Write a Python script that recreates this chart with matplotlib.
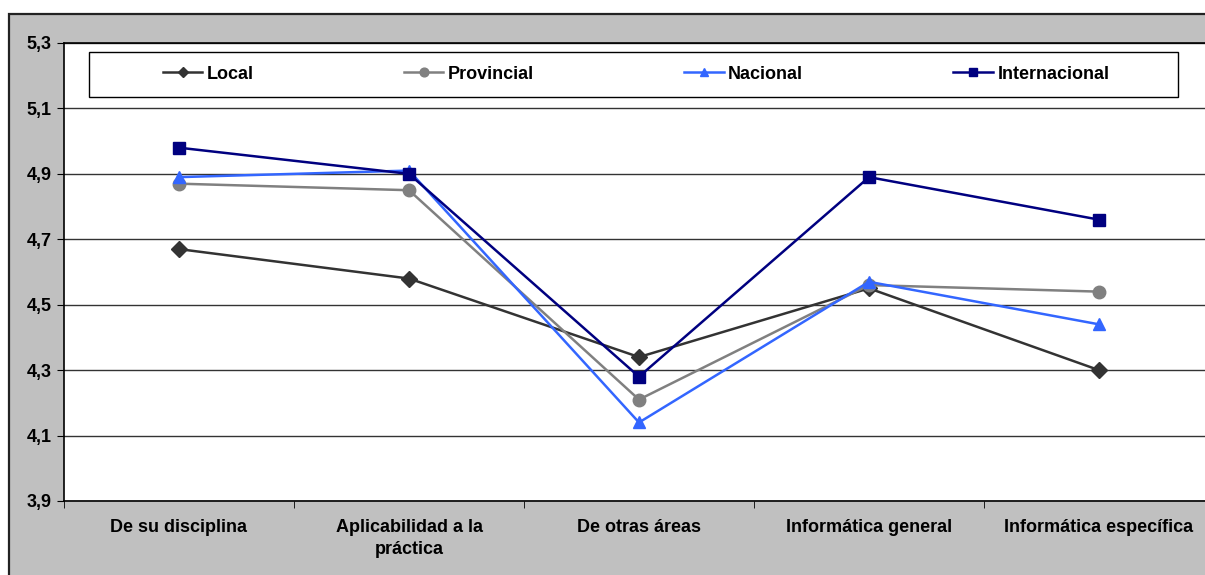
import numpy as np
import matplotlib.pyplot as plt
from matplotlib.patches import Rectangle
from matplotlib.lines import Line2D
from matplotlib.ticker import FixedLocator, FuncFormatter

categories = ['De su disciplina', 'Aplicabilidad a la\npráctica', 'De otras áreas',
              'Informática general', 'Informática específica']
local = [4.67, 4.58, 4.34, 4.55, 4.30]
provincial = [4.87, 4.85, 4.21, 4.56, 4.54]
nacional = [4.89, 4.91, 4.14, 4.57, 4.44]
internacional = [4.98, 4.90, 4.28, 4.89, 4.76]
y_ticks = [3.9, 4.1, 4.3, 4.5, 4.7, 4.9, 5.1, 5.3]


def main():
    plt.rcParams['font.family'] = ['Liberation Sans', 'DejaVu Sans']
    fig = plt.figure(figsize=(12.05, 5.75), dpi=100, facecolor='white')

    # fondo gris del área del gráfico
    bg = Rectangle((9 / 1205, -0.1), 1.2, 1 - 14 / 575 + 0.1,
                   transform=fig.transFigure, facecolor='#C0C0C0',
                   edgecolor='#222222', linewidth=1.6, zorder=-10)
    fig.add_artist(bg)

    ax = fig.add_axes([64 / 1205, 1 - 501 / 575, 1150 / 1205, (501 - 43) / 575])
    ax.set_zorder(1)
    ax.set_facecolor('white')
    x = np.arange(len(categories))

    series = [
        ('Local', local, '#333333', 'D', 8),
        ('Provincial', provincial, '#808080', 'o', 9),
        ('Nacional', nacional, '#3366FF', '^', 8),
        ('Internacional', internacional, '#000080', 's', 9),
    ]
    handles = []
    for name, vals, color, marker, ms in series:
        ax.plot(x, vals, color=color, marker=marker, markersize=ms,
                linewidth=1.8, markeredgecolor=color, label=name, zorder=3)
        # marcadores más pequeños en la leyenda
        handles.append(Line2D([], [], color=color, marker=marker, markersize=ms * 0.7,
                              linewidth=1.8, markeredgecolor=color, label=name))

    ax.set_xlim(-0.5, len(categories) - 0.5)
    ax.set_ylim(3.9, 5.3)
    ax.yaxis.set_major_locator(FixedLocator(y_ticks))
    ax.yaxis.set_major_formatter(FuncFormatter(lambda v, p: f'{v:.1f}'.replace('.', ',')))
    ax.set_xticks(x)
    ax.set_xticklabels(categories, fontsize=13, fontweight='bold', linespacing=1.35)
    ax.set_xticks(np.arange(-0.5, len(categories), 1.0), minor=True)
    ax.tick_params(axis='x', which='major', length=0, pad=13)
    ax.tick_params(axis='x', which='minor', length=5, direction='out', color='black')
    ax.tick_params(axis='y', length=5, direction='out', labelsize=13, pad=4)
    for lab in ax.get_yticklabels():
        lab.set_fontweight('bold')

    ax.grid(axis='y', color='#333333', linewidth=1, zorder=1)
    for s in ax.spines.values():
        s.set_color('black')
        s.set_linewidth(1.2)

    # recuadro de la leyenda
    box = Rectangle((89 / 1205, 1 - 97 / 575), (1178 - 89) / 1205, 45 / 575,
                    transform=fig.transFigure, facecolor='white',
                    edgecolor='black', linewidth=1, zorder=5)
    fig.add_artist(box)
    leg = fig.legend(handles=handles, loc='center', bbox_to_anchor=(636 / 1205, 1 - 74 / 575),
                     ncol=4, frameon=False, prop={'size': 13, 'weight': 'bold'},
                     handlelength=2.2, handletextpad=0.25, columnspacing=8.3)
    leg.set_zorder(6)

    plt.savefig('out.png', dpi=100)


if __name__ == "__main__":
    main()
